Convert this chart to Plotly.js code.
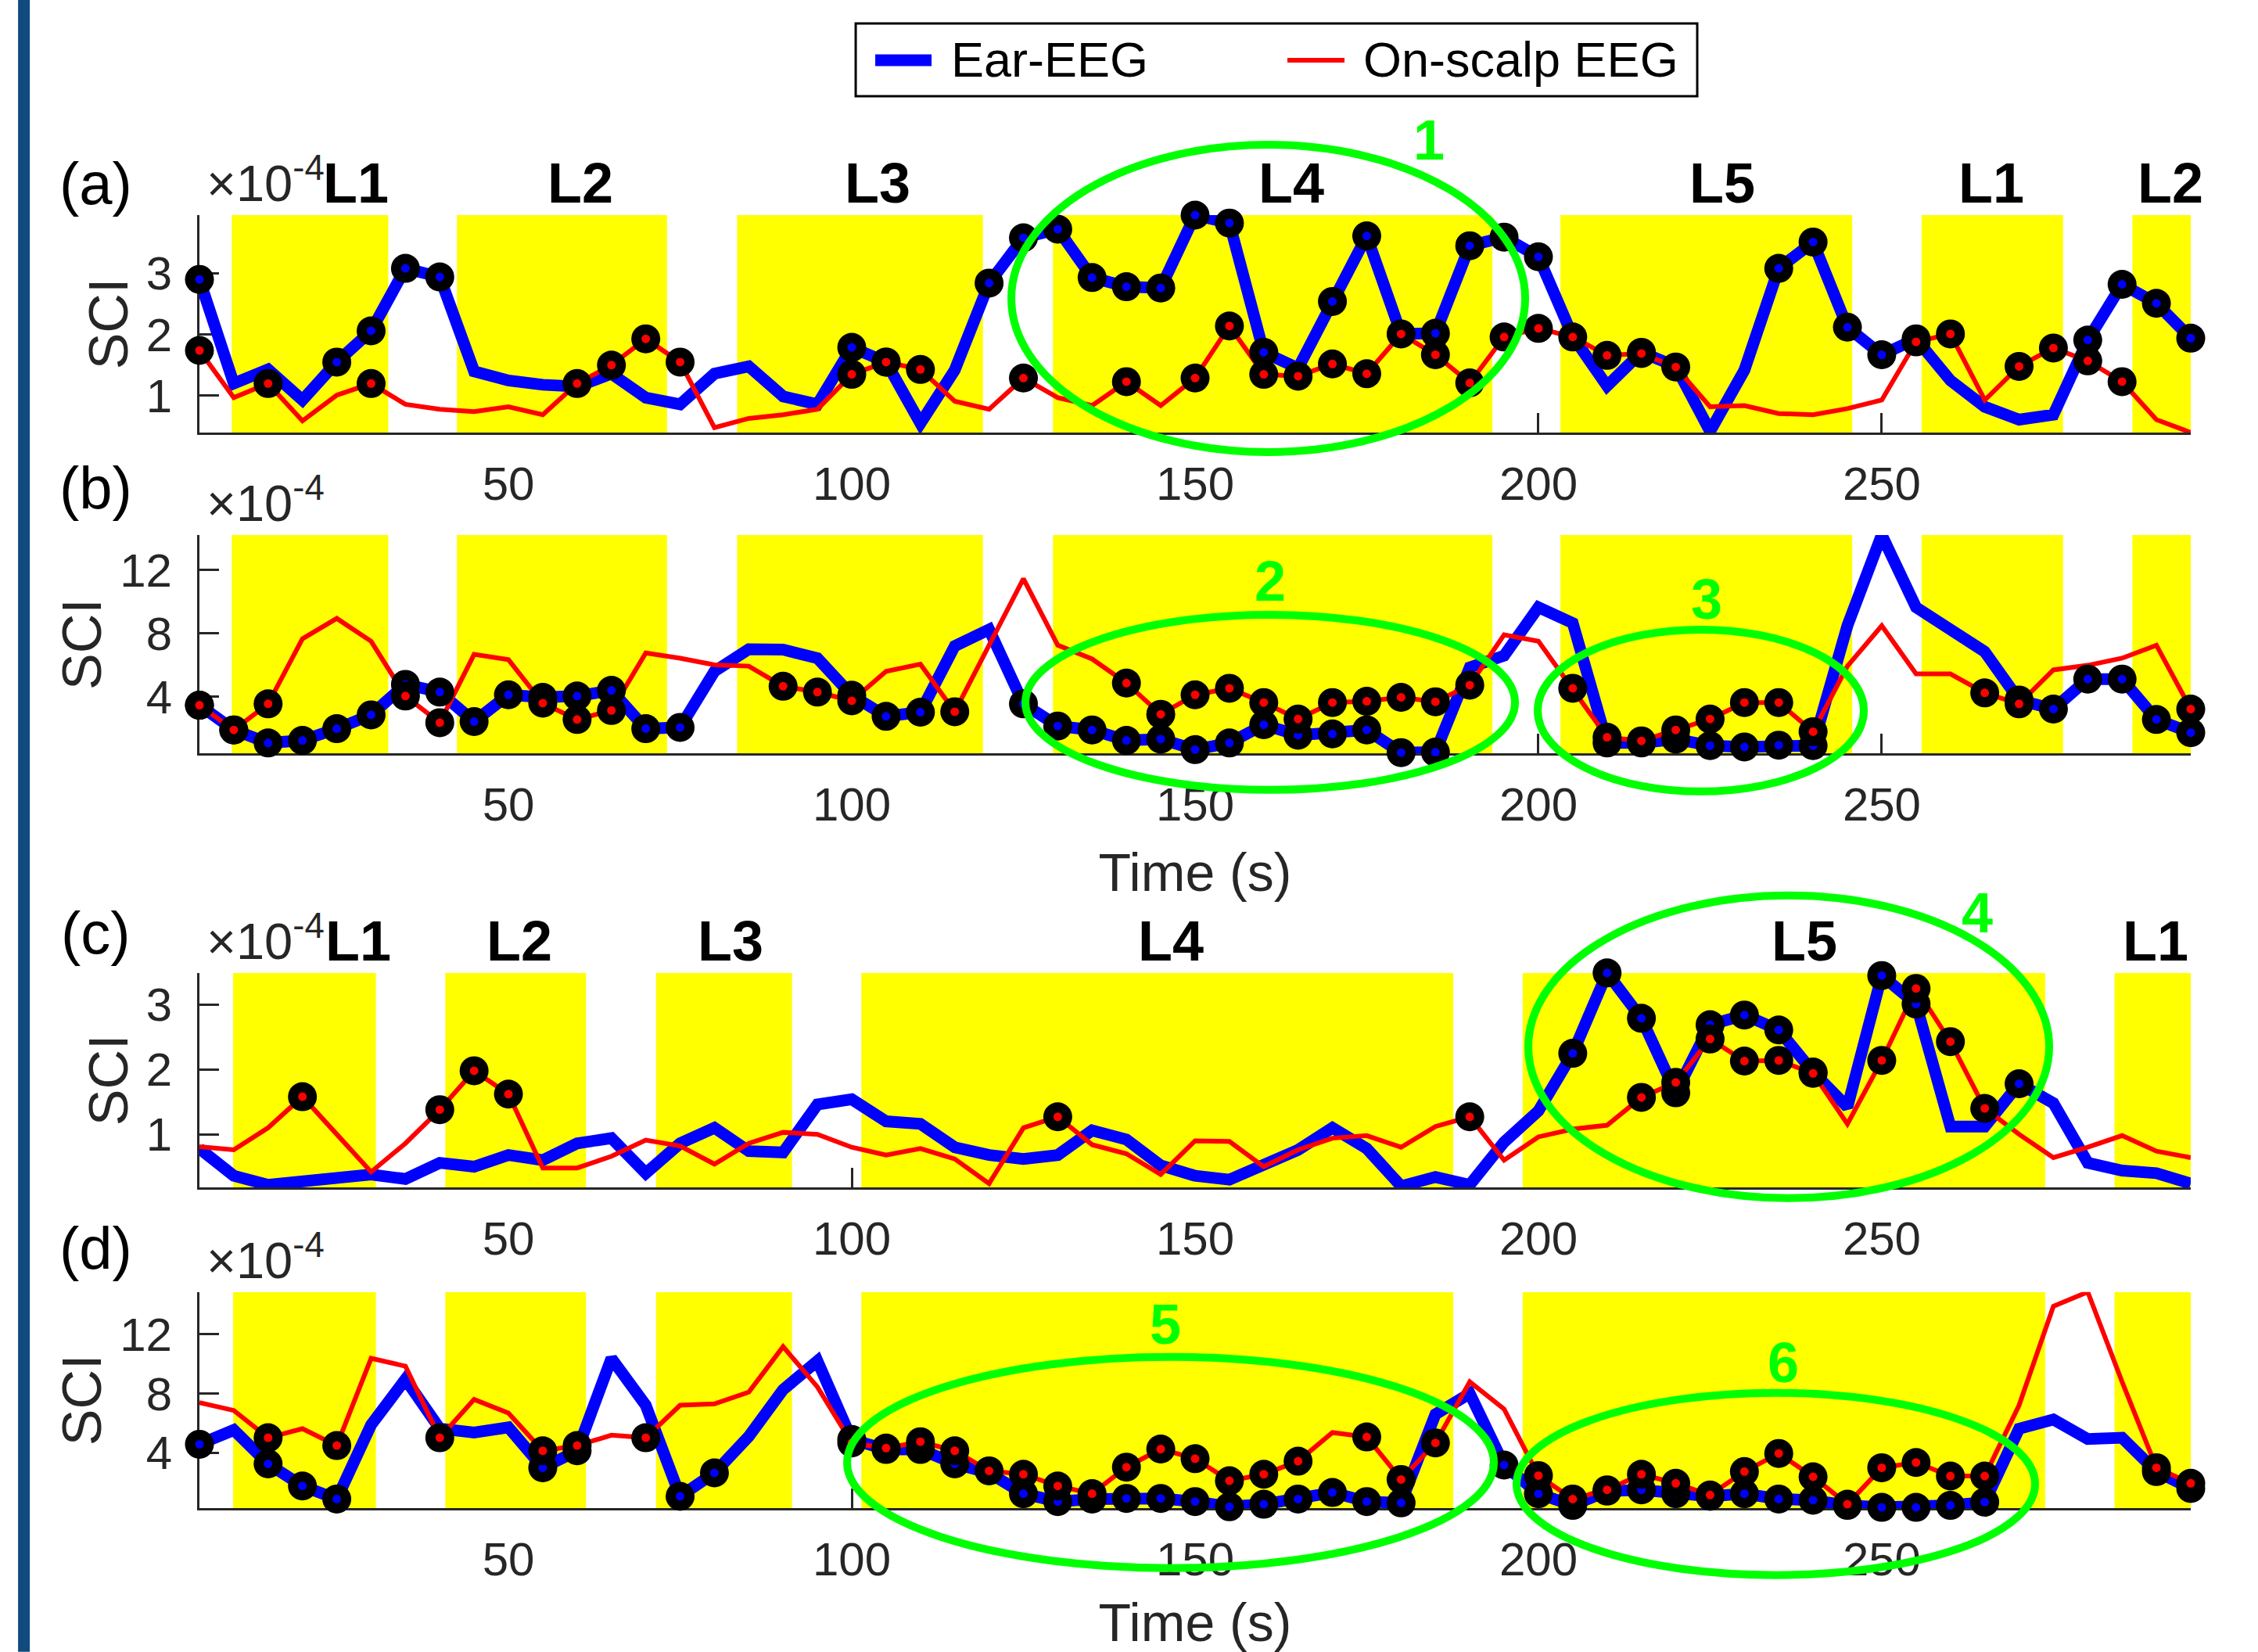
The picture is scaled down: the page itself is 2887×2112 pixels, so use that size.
<!DOCTYPE html>
<html><head><meta charset="utf-8">
<script src="https://cdn.plot.ly/plotly-3.0.1.min.js"></script>
<style>html,body{margin:0;padding:0;background:#fff;}#chart{width:2887px;height:2112px;}</style>
</head><body><div id="chart"></div>
<script>
// ---------------- data (values in units of 1e-4) ----------------
const timeS = [5,10,15,20,25,30,35,40,45,50,55,60,65,70,75,80,85,90,95,100,105,110,115,120,125,130,135,140,145,150,155,160,165,170,175,180,185,190,195,200,205,210,215,220,225,230,235,240,245,250,255,260,265,270,275,280,285,290,295];

const aEar = [2.90,1.20,1.43,0.93,1.55,2.06,3.08,2.94,1.40,1.25,1.18,1.15,1.36,0.97,0.86,1.36,1.48,0.99,0.86,1.79,1.55,0.55,1.42,2.84,3.58,3.72,2.93,2.78,2.76,3.95,3.82,1.71,1.45,2.54,3.61,2.01,2.02,3.45,3.59,3.27,1.97,1.16,1.71,1.48,0.42,1.42,3.08,3.51,2.12,1.67,1.93,1.25,0.82,0.61,0.69,1.91,2.82,2.51,1.94];
const aScalp = [1.74,0.97,1.20,0.59,1.01,1.20,0.86,0.78,0.74,0.82,0.69,1.20,1.50,1.93,1.55,0.48,0.63,0.69,0.78,1.35,1.55,1.43,0.91,0.78,1.29,0.97,0.84,1.23,0.84,1.29,2.14,1.35,1.32,1.52,1.36,2.01,1.67,1.21,1.96,2.10,1.96,1.66,1.69,1.47,0.82,0.84,0.71,0.69,0.79,0.93,1.88,2.01,0.93,1.48,1.78,1.57,1.23,0.61,0.40];

const bEar = [3.47,1.91,1.09,1.25,1.99,2.86,4.79,4.30,2.44,4.13,3.97,4.05,4.41,1.99,2.07,5.61,7.01,6.98,6.44,4.10,2.77,3.03,7.21,8.25,3.56,2.16,1.91,1.25,1.33,0.67,1.09,2.24,1.58,1.66,1.91,0.48,0.51,5.86,6.60,9.65,8.66,1.09,1.09,1.33,0.92,0.84,0.95,0.92,8.49,14.22,9.65,8.25,6.85,3.80,3.23,5.12,5.12,2.57,1.74];
const bScalp = [3.47,1.91,3.56,7.67,8.95,7.51,4.05,2.37,6.68,6.35,3.60,2.57,3.14,6.77,6.44,6.02,5.94,4.67,4.30,3.75,5.61,6.06,3.06,7.26,11.46,7.26,6.39,4.87,2.90,4.13,4.54,3.64,2.60,3.64,3.72,3.97,3.69,4.74,7.92,7.51,4.54,1.45,1.22,1.91,2.60,3.64,3.64,1.80,5.94,8.49,5.45,5.45,4.25,3.56,5.70,5.99,6.44,7.26,3.23];

const cEar = [0.78,0.36,0.22,0.26,0.32,0.38,0.31,0.56,0.50,0.68,0.60,0.86,0.94,0.40,0.86,1.10,0.74,0.72,1.46,1.54,1.20,1.16,0.80,0.68,0.62,0.68,1.06,0.92,0.52,0.36,0.30,0.52,0.76,1.10,0.78,0.20,0.34,0.22,0.88,1.36,2.25,3.49,2.79,1.64,2.69,2.84,2.61,1.96,1.42,3.45,3.01,1.12,1.12,1.78,1.48,0.56,0.44,0.40,0.24];
const cScalp = [0.81,0.76,1.10,1.58,1.00,0.42,0.86,1.38,1.98,1.62,0.48,0.48,0.66,0.91,0.82,0.54,0.86,1.03,1.00,0.80,0.68,0.78,0.62,0.24,1.10,1.27,0.84,0.70,0.38,0.90,0.89,0.50,0.76,0.94,0.98,0.80,1.12,1.27,0.60,0.96,1.08,1.14,1.57,1.80,2.47,2.13,2.14,1.94,1.16,2.14,3.25,2.43,1.40,1.00,0.64,0.80,0.98,0.74,0.64];

const dEar = [4.58,5.54,3.26,1.77,0.89,5.89,8.96,5.63,5.37,5.72,3.00,4.14,10.37,7.21,1.07,2.65,5.11,8.26,10.19,4.90,4.23,4.23,3.26,2.65,1.25,0.72,0.89,0.93,0.93,0.72,0.37,0.54,0.89,1.33,0.72,0.63,6.60,8.00,3.18,1.25,0.46,1.42,1.51,1.25,1.07,1.25,0.89,0.81,0.46,0.33,0.33,0.46,0.68,5.63,6.25,4.93,5.02,2.74,1.60];
const dScalp = [7.39,6.86,5.02,5.63,4.49,10.37,9.84,5.02,7.60,6.68,4.14,4.49,5.19,5.02,7.21,7.30,8.09,11.16,8.44,4.67,4.32,4.75,4.14,2.79,2.56,1.77,1.25,3.04,4.26,3.61,2.12,2.56,3.44,5.37,5.07,2.21,4.67,8.79,6.95,2.47,0.89,1.51,2.56,1.95,1.16,2.74,3.96,2.39,0.54,3.00,3.35,2.44,2.44,7.21,13.88,14.84,8.79,3.00,1.95];

// time points that carry a black circle marker
const aEarMarked = [5,25,30,35,40,100,105,120,125,130,135,140,145,150,155,160,170,175,185,190,195,200,215,235,240,245,250,255,280,285,290,295];
const aScalpMarked = [5,15,30,60,65,70,75,100,105,110,125,140,150,155,160,165,170,175,180,185,190,195,200,205,210,215,220,255,260,270,275,280,285];
const bEarMarked = [5,10,15,20,25,30,35,40,45,50,55,60,65,70,75,100,105,110,125,130,135,140,145,150,155,160,165,170,175,180,185,210,215,220,225,230,235,240,270,275,280,285,290,295];
const bScalpMarked = [5,10,15,35,40,55,60,65,90,95,100,115,140,145,150,155,160,165,170,175,180,185,190,205,210,215,220,225,230,235,240,265,270,295];
const cEarMarked = [205,210,215,220,225,230,235,240,250,255,270];
const cScalpMarked = [20,40,45,50,130,190,215,220,225,230,235,240,250,255,260,265];
const dEarMarked = [5,15,20,25,55,60,75,80,100,105,110,115,125,130,135,140,145,150,155,160,165,170,175,180,195,200,205,210,215,220,225,230,235,240,245,250,255,260,265,290,295];
const dScalpMarked = [15,25,40,55,60,70,100,105,110,115,120,125,130,135,140,145,150,155,160,165,175,180,185,200,205,210,215,220,225,230,235,240,245,250,255,260,265,290,295];

// task intervals (s)
const abBandStart = [9.7,42.5,83.3,129.3,203.2,255.8,286.5];
const abBandEnd   = [32.5,73.1,119.1,193.3,245.7,276.4,295];
const cdBandStart = [9.9,40.8,71.5,101.4,197.7,283.9];
const cdBandEnd   = [30.7,61.3,91.3,187.6,273.8,295];
const abBandLabels = ['L1','L2','L3','L4','L5','L1','L2'];
const abLabelPos   = [27.8,60.5,103.7,164,226.8,266,292];
const cdBandLabels = ['L1','L2','L3','L4','L5','L1'];
const cdLabelPos   = [28.1,51.6,82.3,146.5,238.7,289.9];

const xTickVals = [50,100,150,200,250];
const yTicksSmall = [1,2,3];
const yTicksLarge = [4,8,12];
const seriesNames = ['Ear-EEG','On-scalp EEG'];
const panelLetters = ['(a)','(b)','(c)','(d)'];
const circleNumbers = ['1','2','3','4','5','6'];

// ---------------- geometry / style ----------------
const W = 2887, H = 2112;
const L = 254.9, R = 2801, T = 275, B = 1928.3;
const P = px => (px - L) / (R - L);
const Q = py => (B - py) / (B - T);
const FONT = 'Liberation Sans, Arial, Helvetica, sans-serif';
const AX = '#262626';
const BLUE = '#0000ff', RED = '#ff0000', YEL = '#ffff00', GREEN = '#00ff00';

const panels = [
  {ear:aEar, scalp:aScalp, earM:aEarMarked, scalpM:aScalpMarked, range:[0.40,3.95], ticks:yTicksSmall, top:275, bottom:553, bs:abBandStart, be:abBandEnd, labels:abBandLabels, lpos:abLabelPos, letterY:234, timeStandoff:null},
  {ear:bEar, scalp:bScalp, earM:bEarMarked, scalpM:bScalpMarked, range:[0.43,14.22], ticks:yTicksLarge, top:684, bottom:963.3, bs:abBandStart, be:abBandEnd, labels:null, lpos:null, letterY:624, timeStandoff:31},
  {ear:cEar, scalp:cScalp, earM:cEarMarked, scalpM:cScalpMarked, range:[0.18,3.49], ticks:yTicksSmall, top:1244, bottom:1518.3, bs:cdBandStart, be:cdBandEnd, labels:cdBandLabels, lpos:cdLabelPos, letterY:1193, timeStandoff:null},
  {ear:dEar, scalp:dScalp, earM:dEarMarked, scalpM:dScalpMarked, range:[0.28,14.84], ticks:yTicksLarge, top:1652, bottom:1928.3, bs:cdBandStart, be:cdBandEnd, labels:null, lpos:null, letterY:1596, timeStandoff:44}
];

const traces = [];
const annotations = [];
const shapes = [];
const layout = {
  width: W, height: H,
  margin: {l: L, r: W - R, t: T, b: H - B, pad: 0},
  paper_bgcolor: '#ffffff', plot_bgcolor: 'rgba(0,0,0,0)',
  showlegend: false,
  font: {family: FONT, color: AX},
  annotations: annotations,
  shapes: shapes
};

const valueAt = (series, t) => series[timeS.indexOf(t)];

panels.forEach((pn, i) => {
  const s = i === 0 ? '' : String(i + 1);
  const xa = 'x' + s, ya = 'y' + s;
  // yellow task bands
  pn.bs.forEach((b0, j) => {
    const b1 = pn.be[j];
    traces.push({x:[b0,b1,b1,b0,b0], y:[pn.range[0],pn.range[0],pn.range[1],pn.range[1],pn.range[0]],
      mode:'lines', fill:'toself', fillcolor:YEL, line:{width:0, color:YEL}, hoverinfo:'skip',
      xaxis:xa, yaxis:ya, showlegend:false});
  });
  traces.push({x:timeS, y:pn.ear, mode:'lines', name:seriesNames[0], line:{color:BLUE, width:15}, xaxis:xa, yaxis:ya});
  traces.push({x:timeS, y:pn.scalp, mode:'lines', name:seriesNames[1], line:{color:RED, width:6}, xaxis:xa, yaxis:ya});
  // marked points: black disc with a small dot of the series colour in the middle (ring look)
  [[pn.earM, pn.ear, BLUE], [pn.scalpM, pn.scalp, RED]].forEach(([times, series, col]) => {
    const ys = times.map(t => valueAt(series, t));
    traces.push({x:times, y:ys, mode:'markers', marker:{symbol:'circle', size:37, color:'#000000', line:{width:0}},
      xaxis:xa, yaxis:ya, cliponaxis:false, hoverinfo:'skip'});
    traces.push({x:times, y:ys, mode:'markers', marker:{symbol:'circle', size:11, color:col, line:{width:0}},
      xaxis:xa, yaxis:ya, cliponaxis:false, hoverinfo:'skip'});
  });

  const xaxis = {
    domain:[0,1], anchor:ya, range:[5,295], tickvals:xTickVals, ticktext:xTickVals.map(String),
    ticks:'inside', ticklen:25, tickwidth:3, tickcolor:AX, showline:true, linecolor:AX, linewidth:3,
    showgrid:false, zeroline:false, layer:'below traces', ticklabelstandoff:11,
    tickfont:{size:60, color:AX, family:FONT}
  };
  if (pn.timeStandoff !== null) {
    xaxis.title = {text:'Time (s)', font:{size:68, color:AX, family:FONT}, standoff:pn.timeStandoff};
  }
  layout['xaxis' + s] = xaxis;
  layout['yaxis' + s] = {
    domain:[Q(pn.bottom), Q(pn.top)], anchor:xa, range:pn.range, tickvals:pn.ticks, ticktext:pn.ticks.map(String),
    ticks:'inside', ticklen:25, tickwidth:3, tickcolor:AX, showline:true, linecolor:AX, linewidth:3,
    showgrid:false, zeroline:false, layer:'below traces', ticklabelstandoff:20,
    tickfont:{size:60, color:AX, family:FONT},
    title:{text:'SCI', font:{size:70, color:AX, family:FONT}, standoff:1}
  };

  // panel letter
  annotations.push({xref:'paper', yref:'paper', x:P(122), y:Q(pn.letterY), text:panelLetters[i], showarrow:false,
    xanchor:'center', yanchor:'middle', font:{size:76, color:'#000000', family:FONT}});
  // exponent
  annotations.push({xref:'paper', yref:'paper', x:P(262), y:Q(pn.top - 2), text:'\u00d710<sup>-4</sup>', showarrow:false,
    xanchor:'left', yanchor:'bottom', font:{size:65, color:AX, family:FONT}});
  // band labels
  if (pn.labels) {
    pn.labels.forEach((lab, j) => {
      annotations.push({xref:xa, yref:'paper', x:pn.lpos[j], y:Q(pn.top - 41), text:'<b>' + lab + '</b>', showarrow:false,
        xanchor:'center', yanchor:'middle', font:{size:72, color:'#000000', family:FONT}});
    });
  }
});

// green ellipses with numbers (pixel boxes)
const ellipses = [
  [1293,185,1950,578],[1311,786,1937,1010],[1966,805,2383,1012],
  [1954,1145,2620,1532],[1083,1735,1910,2005],[1939,1781,2602,2014]
];
const numberPos = [[1827,179],[1624,743],[2182,766],[2528,1167],[1490,1693],[2280,1742]];
ellipses.forEach((e, k) => {
  shapes.push({type:'circle', xref:'paper', yref:'paper', x0:P(e[0]), x1:P(e[2]), y0:Q(e[3]), y1:Q(e[1]),
    line:{color:GREEN, width:10}, layer:'above'});
  annotations.push({xref:'paper', yref:'paper', x:P(numberPos[k][0]), y:Q(numberPos[k][1]), text:'<b>' + circleNumbers[k] + '</b>',
    showarrow:false, xanchor:'center', yanchor:'middle', font:{size:72, color:GREEN, family:FONT}});
});

// dark side bar
shapes.push({type:'rect', xref:'paper', yref:'paper', x0:P(23), x1:P(38), y0:Q(H), y1:Q(0), fillcolor:'#104a7e', line:{width:0}, layer:'above'});

// legend box
shapes.push({type:'rect', xref:'paper', yref:'paper', x0:P(1094), x1:P(2170), y0:Q(123), y1:Q(30), fillcolor:'#ffffff', line:{color:'#000000', width:3}, layer:'above'});
shapes.push({type:'line', xref:'paper', yref:'paper', x0:P(1119), x1:P(1191), y0:Q(77), y1:Q(77), line:{color:BLUE, width:15}, layer:'above'});
shapes.push({type:'line', xref:'paper', yref:'paper', x0:P(1646), x1:P(1719), y0:Q(77), y1:Q(77), line:{color:RED, width:6}, layer:'above'});
annotations.push({xref:'paper', yref:'paper', x:P(1214), y:Q(76), text:seriesNames[0], showarrow:false, xanchor:'left', yanchor:'middle', font:{size:63, color:'#000000', family:FONT}});
annotations.push({xref:'paper', yref:'paper', x:P(1741), y:Q(76), text:seriesNames[1], showarrow:false, xanchor:'left', yanchor:'middle', font:{size:63, color:'#000000', family:FONT}});

Plotly.newPlot('chart', traces, layout, {staticPlot:true, displayModeBar:false});
</script>
</body></html>
